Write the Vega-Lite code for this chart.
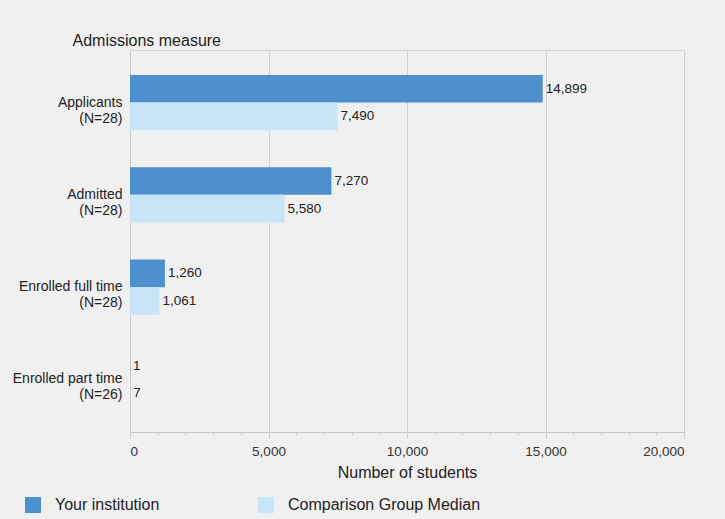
{
  "$schema": "https://vega.github.io/schema/vega-lite/v6.json",
  "width": 554,
  "height": 382,
  "autosize": {"type": "none"},
  "padding": {"left": 130, "top": 50, "right": 41, "bottom": 87},
  "background": "#f0f0f0",
  "config": {
    "font": "Liberation Sans",
    "view": {"stroke": "#d4d4d4", "strokeWidth": 1}
  },
  "data": {
    "values": [
      {"measure": "Applicants|(N=28)", "series": "Your institution", "value": 14899},
      {"measure": "Applicants|(N=28)", "series": "Comparison Group Median", "value": 7490},
      {"measure": "Admitted|(N=28)", "series": "Your institution", "value": 7270},
      {"measure": "Admitted|(N=28)", "series": "Comparison Group Median", "value": 5580},
      {"measure": "Enrolled full time|(N=28)", "series": "Your institution", "value": 1260},
      {"measure": "Enrolled full time|(N=28)", "series": "Comparison Group Median", "value": 1061},
      {"measure": "Enrolled part time|(N=26)", "series": "Your institution", "value": 1},
      {"measure": "Enrolled part time|(N=26)", "series": "Comparison Group Median", "value": 7}
    ]
  },
  "encoding": {
    "y": {
      "field": "measure",
      "type": "nominal",
      "sort": null,
      "scale": {"paddingInner": 0.4, "paddingOuter": 0.27},
      "axis": {
        "title": "Admissions measure",
        "titleAngle": 0,
        "titleAlign": "left",
        "titleBaseline": "middle",
        "titleX": -58,
        "titleY": -10,
        "titleFontSize": 16,
        "titleFontWeight": "normal",
        "titleColor": "#222222",
        "labelExpr": "split(datum.label, '|')",
        "labelFontSize": 14,
        "labelColor": "#222222",
        "labelLineHeight": 16,
        "labelPadding": 8,
        "labelLimit": 200,
        "ticks": false,
        "domain": true,
        "domainColor": "#c8c8c8"
      }
    },
    "yOffset": {
      "field": "series",
      "type": "nominal",
      "sort": ["Your institution", "Comparison Group Median"]
    },
    "x": {
      "field": "value",
      "type": "quantitative",
      "scale": {"domain": [0, 20000], "nice": false},
      "axis": {
        "title": "Number of students",
        "titleFontSize": 16,
        "titleFontWeight": "normal",
        "titleColor": "#222222",
        "titlePadding": 7,
        "values": [0, 1000, 2000, 3000, 4000, 5000, 6000, 7000, 8000, 9000, 10000, 11000, 12000, 13000, 14000, 15000, 16000, 17000, 18000, 19000, 20000],
        "labelExpr": "datum.value % 5000 === 0 ? format(datum.value, ',') : ''",
        "labelFontSize": 13.5,
        "labelColor": "#333333",
        "labelPadding": 6,
        "grid": true,
        "gridColor": "#cfcfcf",
        "gridOpacity": {"condition": {"test": "datum.value % 5000 === 0 && datum.value > 0", "value": 1}, "value": 0},
        "tickColor": "#cccccc",
        "tickSize": {"condition": {"test": "datum.value % 5000 === 0", "value": 6}, "value": 3},
        "domainColor": "#c8c8c8"
      }
    }
  },
  "layer": [
    {
      "mark": {"type": "bar"},
      "encoding": {
        "color": {
          "field": "series",
          "type": "nominal",
          "sort": ["Your institution", "Comparison Group Median"],
          "scale": {"domain": ["Your institution", "Comparison Group Median"], "range": ["#4e8fcd", "#c8e4f7"]},
          "legend": {
            "title": null,
            "orient": "none",
            "legendX": -105,
            "legendY": 447,
            "direction": "horizontal",
            "symbolType": "square",
            "symbolSize": 256,
            "symbolStrokeWidth": 0,
            "labelFontSize": 16,
            "labelColor": "#222222",
            "labelOffset": 14,
            "labelLimit": 300,
            "columnPadding": 98
          }
        }
      }
    },
    {
      "mark": {"type": "text", "align": "left", "baseline": "middle", "dx": 3, "fontSize": 13.5, "color": "#222222"},
      "encoding": {
        "text": {"field": "value", "type": "quantitative", "format": ","}
      }
    }
  ]
}
